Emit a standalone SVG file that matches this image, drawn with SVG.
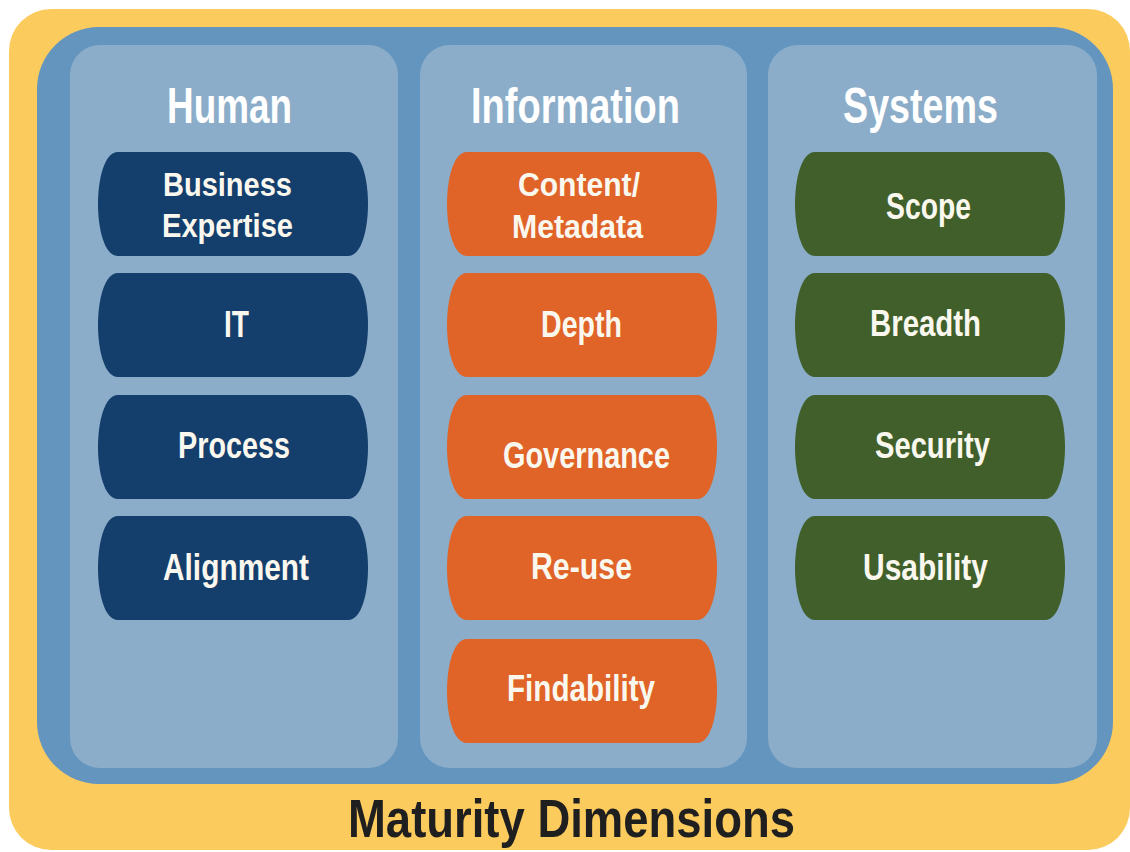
<svg xmlns="http://www.w3.org/2000/svg" width="1130" height="852" viewBox="0 0 1130 852">
<defs>
<style>
.t{font-family:"Liberation Sans",Arial,sans-serif;font-weight:bold;fill:#FAF8EE;}
.title{font-size:50px;fill:#FFFFFF;}
.p1{font-size:36px;}
.p2{font-size:33px;}
.panel{fill:#8BADC9;}
.hum{fill:#143E6C;}
.inf{fill:#E06327;}
.sys{fill:#405F2A;}
</style>
<path id="pill" d="M20,0 H250 C264,0 270,28 270,52 C270,76 264,104 250,104 H20 C6,104 0,76 0,52 C0,28 6,0 20,0 Z"/>
</defs>
<rect x="0" y="0" width="1130" height="852" fill="#FFFFFF"/>
<rect x="9" y="9" width="1121" height="841" rx="42" ry="42" fill="#FCCB5E"/>
<rect x="37" y="27" width="1076" height="757" rx="62" ry="62" fill="#6395BE"/>
<g id="panel-human"><rect class="panel" x="70" y="45" width="328" height="723" rx="30" ry="30"/>
<text class="t title" x="167" y="123" textLength="125" lengthAdjust="spacingAndGlyphs">Human</text></g>
<g id="panel-information"><rect class="panel" x="420" y="45" width="327" height="723" rx="30" ry="30"/>
<text class="t title" x="471" y="123" textLength="209" lengthAdjust="spacingAndGlyphs">Information</text></g>
<g id="panel-systems"><rect class="panel" x="768" y="45" width="329" height="723" rx="30" ry="30"/>
<text class="t title" x="843" y="123" textLength="155" lengthAdjust="spacingAndGlyphs">Systems</text></g>

<g id="h1"><use href="#pill" class="hum" x="98" y="152"/>
<text class="t p2" x="163" y="196" textLength="129" lengthAdjust="spacingAndGlyphs">Business</text>
<text class="t p2" x="162" y="237" textLength="131" lengthAdjust="spacingAndGlyphs">Expertise</text></g>
<g id="h2"><use href="#pill" class="hum" x="98" y="273"/>
<text class="t p1" x="224" y="337" textLength="25" lengthAdjust="spacingAndGlyphs">IT</text></g>
<g id="h3"><use href="#pill" class="hum" x="98" y="395"/>
<text class="t p1" x="178" y="458" textLength="112" lengthAdjust="spacingAndGlyphs">Process</text></g>
<g id="h4"><use href="#pill" class="hum" x="98" y="516"/>
<text class="t p1" x="163" y="580" textLength="146" lengthAdjust="spacingAndGlyphs">Alignment</text></g>

<g id="i1"><use href="#pill" class="inf" x="447" y="152"/>
<text class="t p2" x="518" y="196" textLength="122" lengthAdjust="spacingAndGlyphs">Content/</text>
<text class="t p2" x="512" y="238" textLength="131" lengthAdjust="spacingAndGlyphs">Metadata</text></g>
<g id="i2"><use href="#pill" class="inf" x="447" y="273"/>
<text class="t p1" x="541" y="337" textLength="81" lengthAdjust="spacingAndGlyphs">Depth</text></g>
<g id="i3"><use href="#pill" class="inf" x="447" y="395"/>
<text class="t p1" x="503" y="468" textLength="167" lengthAdjust="spacingAndGlyphs">Governance</text></g>
<g id="i4"><use href="#pill" class="inf" x="447" y="516"/>
<text class="t p1" x="531" y="579" textLength="101" lengthAdjust="spacingAndGlyphs">Re-use</text></g>
<g id="i5"><use href="#pill" class="inf" x="447" y="639"/>
<text class="t p1" x="507" y="701" textLength="148" lengthAdjust="spacingAndGlyphs">Findability</text></g>

<g id="s1"><use href="#pill" class="sys" x="795" y="152"/>
<text class="t p1" x="886" y="219" textLength="85" lengthAdjust="spacingAndGlyphs">Scope</text></g>
<g id="s2"><use href="#pill" class="sys" x="795" y="273"/>
<text class="t p1" x="870" y="336" textLength="111" lengthAdjust="spacingAndGlyphs">Breadth</text></g>
<g id="s3"><use href="#pill" class="sys" x="795" y="395"/>
<text class="t p1" x="875" y="458" textLength="115" lengthAdjust="spacingAndGlyphs">Security</text></g>
<g id="s4"><use href="#pill" class="sys" x="795" y="516"/>
<text class="t p1" x="863" y="580" textLength="125" lengthAdjust="spacingAndGlyphs">Usability</text></g>

<g id="connectors"></g>
<text x="348" y="837" font-family="Liberation Sans, Arial, sans-serif" font-weight="bold" font-size="54" fill="#1F1F1F" textLength="447" lengthAdjust="spacingAndGlyphs">Maturity Dimensions</text>
</svg>
